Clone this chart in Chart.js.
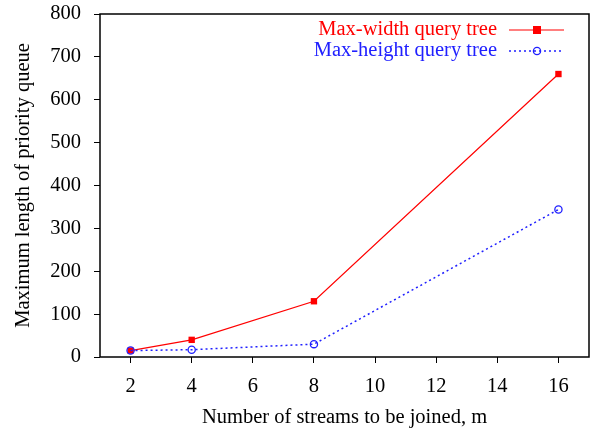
<!DOCTYPE html>
<html>
<head>
<meta charset="utf-8">
<script src="https://cdn.jsdelivr.net/npm/chart.js@4/dist/chart.umd.min.js"></script>
<style>
  html, body { margin: 0; padding: 0; background: #fff; }
  #wrap { width: 591px; height: 432px; }
</style>
</head>
<body>
<div id="wrap"><canvas id="plot" width="591" height="432"></canvas></div>
<script>
// data
var streams = [2, 4, 8, 16];
var maxWidthTree = [15, 40, 130, 660];
var maxHeightTree = [15, 17, 30, 344];
var xTicks = [2, 4, 6, 8, 10, 12, 14, 16];
var yTicks = [0, 100, 200, 300, 400, 500, 600, 700, 800];

var serif = "'Liberation Serif', 'DejaVu Serif', serif";
var fontSize = 20.5;

function points(xs, ys)
{
    var out = [];
    for (var i = 0; i < xs.length; i++)
        out.push({x: xs[i], y: ys[i]});
    return out;
}

function noPadding(scale)
{
    scale.paddingTop = 0;
    scale.paddingBottom = 0;
    scale.paddingLeft = 0;
    scale.paddingRight = 0;
}

// frame round the plot area plus legend in the top right corner
var framePlugin = {
    id: 'frame',
    afterDraw: function(chart) {
        var ctx = chart.ctx;
        var a = chart.chartArea;
        ctx.save();
        ctx.strokeStyle = '#000';
        ctx.lineWidth = 1.5;
        ctx.strokeRect(a.left, a.top, a.right - a.left, a.bottom - a.top);

        ctx.font = fontSize + 'px ' + serif;
        ctx.textAlign = 'right';
        ctx.textBaseline = 'middle';
        var rows = [30, 51];
        chart.data.datasets.forEach(function(ds, i) {
            var y = rows[i];
            ctx.fillStyle = ds.borderColor;
            ctx.fillText(ds.label, 497, y);
            ctx.strokeStyle = ds.borderColor;
            ctx.lineWidth = ds.borderWidth;
            ctx.setLineDash(ds.borderDash || []);
            ctx.beginPath();
            ctx.moveTo(509, y);
            ctx.lineTo(564, y);
            ctx.stroke();
            ctx.setLineDash([]);
            var cx = 537;
            if (ds.pointStyle == 'rect') {
                ctx.fillStyle = ds.borderColor;
                ctx.fillRect(cx - 4, y - 4, 8, 8);
            } else {
                ctx.lineWidth = 1.3;
                ctx.beginPath();
                ctx.arc(cx, y, 3.6, 0, Math.PI * 2);
                ctx.stroke();
            }
        });
        ctx.restore();
    }
};

new Chart(document.getElementById("plot"), {
    type: "line",
    data: {
        datasets: [{
            label: 'Max-width query tree',
            data: points(streams, maxWidthTree),
            borderColor: '#ff0000',
            backgroundColor: '#ff0000',
            borderWidth: 1.2,
            pointStyle: 'rect',
            pointRadius: 4.5,
            pointBorderWidth: 0,
            tension: 0,
            order: 1
        }, {
            label: 'Max-height query tree',
            data: points(streams, maxHeightTree),
            borderColor: '#2020ff',
            backgroundColor: 'rgba(0,0,0,0)',
            borderWidth: 1.5,
            borderDash: [2, 3],
            pointStyle: 'circle',
            pointRadius: 3.6,
            pointBorderWidth: 1.3,
            tension: 0,
            order: 0
        }]
    },
    options: {
        responsive: false,
        animation: false,
        layout: {autoPadding: false, padding: {top: 14, right: 2, left: 0, bottom: 0}},
        plugins: {
            legend: {display: false},
            tooltip: {enabled: false}
        },
        scales: {
            x: {
                type: 'linear',
                min: 1,
                max: 17,
                afterBuildTicks: function(scale) {
                    scale.ticks = xTicks.map(function(v) { return {value: v}; });
                },
                afterFit: function(scale) { scale.height = 75; noPadding(scale); },
                grid: {display: true, drawOnChartArea: false, tickLength: 6, color: '#000', lineWidth: 1},
                border: {display: false},
                ticks: {color: '#000', font: {family: serif, size: fontSize}, padding: 11, maxRotation: 0},
                title: {
                    display: true,
                    text: 'Number of streams to be joined, m',
                    color: '#000',
                    font: {family: serif, size: fontSize},
                    padding: {top: 2, bottom: 2}
                }
            },
            y: {
                min: 0,
                max: 800,
                afterBuildTicks: function(scale) {
                    scale.ticks = yTicks.map(function(v) { return {value: v}; });
                },
                afterFit: function(scale) { scale.width = 100; noPadding(scale); },
                grid: {display: true, drawOnChartArea: false, tickLength: 6, color: '#000', lineWidth: 1},
                border: {display: false},
                ticks: {color: '#000', font: {family: serif, size: fontSize}, padding: 13},
                title: {
                    display: true,
                    text: 'Maximum length of priority queue',
                    color: '#000',
                    font: {family: serif, size: fontSize},
                    padding: {top: 11, bottom: 4}
                }
            }
        }
    },
    plugins: [framePlugin]
});
</script>
</body>
</html>
